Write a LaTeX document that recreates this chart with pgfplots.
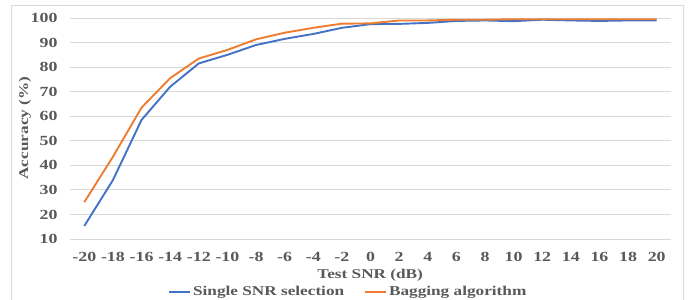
\documentclass[border=0pt]{standalone}
\usepackage{fontspec}
\setmainfont{Liberation Serif}[FakeStretch=1.28]
\usepackage{pgfplots}
\pgfplotsset{compat=1.18}
\definecolor{txt}{HTML}{595959}
\definecolor{gridc}{HTML}{D9D9D9}
\definecolor{sblue}{HTML}{4472C4}
\definecolor{sorange}{HTML}{ED7D31}
\begin{document}
\begin{tikzpicture}
\useasboundingbox (-70bp,-61bp) rectangle (623bp,239bp);
\draw[gridc, line width=0.8bp] (-59bp,-70bp) -- (-59bp,234bp) -- (613bp,234bp) -- (613bp,-70bp);
\begin{axis}[
  scale only axis,
  width=601bp, height=221bp,
  xmin=-0.5, xmax=20.5,
  ymin=10, ymax=100,
  xtick={0,...,20},
  xticklabels={-20,-18,-16,-14,-12,-10,-8,-6,-4,-2,0,2,4,6,8,10,12,14,16,18,20},
  ytick={10,20,...,100},
  axis line style={draw=none},
  major tick length=0pt,
  ymajorgrids,
  grid style={gridc, line width=0.8bp},
  /pgf/number format/assume math mode=true,
  tick label style={font=\fontsize{14}{16}\selectfont\bfseries, text=txt},
  yticklabel style={xshift=-9bp},
  xticklabel style={yshift=-10bp},
  xlabel={Test SNR (dB)},
  ylabel={Accuracy (\%)},
  label style={font=\fontsize{13.5}{15}\selectfont\bfseries, text=txt},
  xlabel style={at={(axis description cs:0.4995,-0.165)}, anchor=center},
  ylabel style={at={(axis description cs:-0.075,0.502)}, anchor=center, rotate=0},
  legend style={at={(axis description cs:0.463,-0.24)}, anchor=center, draw=none,
    font=\fontsize{13.5}{15}\selectfont\bfseries, text=txt, legend columns=2,
    /tikz/every even column/.append style={column sep=18bp}, inner sep=0pt},
  legend image code/.code={\draw[#1] (0bp,0bp) -- (21bp,0bp);},
  legend cell align=left,
]
\addplot[sblue, line width=1.9bp] coordinates {
(0,15.3)(1,34)(2,58.5)(3,72)(4,81.5)(5,85)(6,89)(7,91.5)(8,93.5)(9,96)(10,97.5)
(11,97.6)(12,98)(13,98.8)(14,99)(15,98.7)(16,99.3)(17,99)(18,98.8)(19,99)(20,99)};
\addlegendentry{Single SNR selection}
\addplot[sorange, line width=1.9bp] coordinates {
(0,25)(1,43.5)(2,63.5)(3,75.5)(4,83.5)(5,87)(6,91.3)(7,94)(8,96)(9,97.7)(10,97.8)
(11,99)(12,99)(13,99.3)(14,99.3)(15,99.5)(16,99.5)(17,99.5)(18,99.5)(19,99.5)(20,99.5)};
\addlegendentry{Bagging algorithm}
\end{axis}
\end{tikzpicture}
\end{document}
